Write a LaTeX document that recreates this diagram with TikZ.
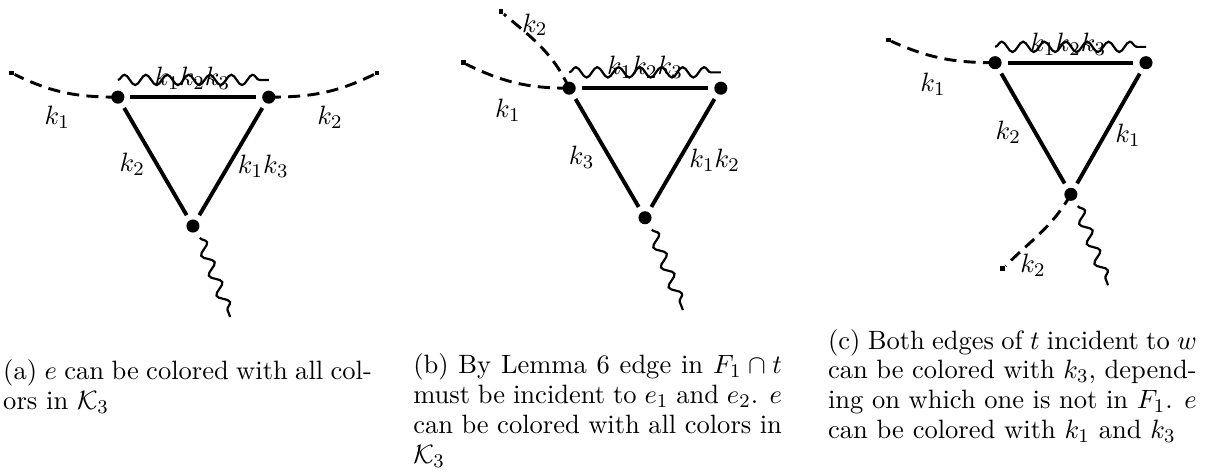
\documentclass[tikz,border=0pt]{standalone}
\usetikzlibrary{decorations.pathmorphing, positioning, calc}

\begin{document}
\begin{tikzpicture}[
    every node/.style={font=\fontsize{10.95}{13.2}\selectfont},
    vtx/.style={
        circle,
        fill=black,
        inner sep=0pt,
        minimum size=0.19cm
    },
    stub/.style={
        rectangle,
        fill=black,
        inner sep=0pt,
        minimum size=2pt
    },
    tedge/.style={
        line width=1.6pt,
        shorten <=0.08cm,
        shorten >=0.08cm
    },
    half/.style={
        very thick,
        dash pattern=on 5pt off 3pt
    },
    wave/.style={
        line width=0.9pt,
        decorate,
        decoration={snake, segment length=0.31cm, amplitude=0.075cm}
    },
    capt/.style={
        anchor=north west,
        inner sep=0pt,
        text width=5.35cm,
        align=justify,
        font=\fontsize{10.95}{12.3}\selectfont
    }
]

\useasboundingbox (0,0) rectangle (17.53,6.85);

% ============================================================
% (a)
% ============================================================

\node[vtx] (La) at (1.71,5.44) {};
\node[vtx] (Ra) at (3.90,5.44) {};
\node[vtx] (Ba) at (2.80,3.57) {};

\node[stub] (ea1) at (0.17,5.79) {};
\node[stub] (ea2) at (5.47,5.79) {};
\coordinate (wa) at (3.34,2.25);

\draw[tedge] (La) -- (Ra);
\draw[tedge] (La) -- (Ba);
\draw[tedge] (Ra) -- (Ba);

\draw[half] (La.center) to[out=180, in=-26] (ea1);
\draw[half] (Ra.center) to[out=0, in=206] (ea2);

\draw[wave] ([yshift=0.25cm]La.center) -- ([yshift=0.25cm]Ra.center);
\draw[wave] ([shift={(0.1,-0.17)}]Ba.center) -- (wa);

\node at (2.79,5.72) {$k_1k_2k_3$};
\node at (0.83,5.15) {$k_1$};
\node at (4.79,5.15) {$k_2$};
\node at (1.92,4.46) {$k_2$};
\node at (3.82,4.43) {$k_1k_3$};

\node[capt] (capa) at (0.04,1.64)
{(a) $e$ can be colored with all col-\linebreak ors in $\mathcal{K}_3$};

% ============================================================
% (b)
% ============================================================

\node[vtx] (Lb) at (8.26,5.57) {};
\node[vtx] (Rb) at (10.46,5.57) {};
\node[vtx] (Bb) at (9.36,3.69) {};

\node[stub] (eb1) at (6.72,5.94) {};
\node[stub] (eb2) at (7.27,6.68) {};
\coordinate (wb) at (9.91,2.35);

\draw[tedge] (Lb) -- (Rb);
\draw[tedge] (Lb) -- (Bb);
\draw[tedge] (Rb) -- (Bb);

\draw[half] (Lb.center) to[out=180, in=-26] (eb1);
\draw[half] (Lb.center) to[out=115, in=-40] (eb2);

\draw[wave] ([yshift=0.23cm]Lb.center) -- ([yshift=0.23cm]Rb.center);
\draw[wave] ([shift={(0.1,-0.17)}]Bb.center) -- (wb);

\node at (9.36,5.88) {$k_1k_2k_3$};
\node at (7.37,5.25) {$k_1$};
\node at (7.76,6.49) {$k_2$};
\node at (8.44,4.57) {$k_3$};
\node at (10.37,4.53) {$k_1k_2$};

\node[capt] (capb) at (5.99,1.72)
{(b) By Lemma 6 edge in $F_1\cap t$\linebreak must be incident to $e_1$ and $e_2$. $e$\linebreak
can be colored with all colors in\linebreak $\mathcal{K}_3$};

% ============================================================
% (c)
% ============================================================

\node[vtx] (Lc) at (14.44,5.94) {};
\node[vtx] (Rc) at (16.63,5.94) {};
\node[vtx] (Bc) at (15.54,4.03) {};

\node[stub] (ec1) at (12.89,6.27) {};
\node[stub] (ec2) at (14.55,2.95) {};
\coordinate (wc) at (16.08,2.71);

\draw[tedge] (Lc) -- (Rc);
\draw[tedge] (Lc) -- (Bc);
\draw[tedge] (Rc) -- (Bc);

\draw[half] (Lc.center) to[out=180, in=-24] (ec1);
\draw[half] (Bc.center) to[out=240, in=45] (ec2);

\draw[wave] ([yshift=0.23cm]Lc.center) -- ([yshift=0.23cm]Rc.center);
\draw[wave] ([shift={(0.1,-0.17)}]Bc.center) -- (wc);

\node at (15.50,6.20) {$k_1k_2k_3$};
\node at (13.54,5.62) {$k_1$};
\node at (14.63,4.93) {$k_2$};
\node at (16.37,4.89) {$k_1$};
\node at (14.99,3.00) {$k_2$};

\node[capt] (capc) at (12.01,2.08)
{(c) Both edges of $t$ incident to $w$\linebreak can be colored with $k_3$, depend-\linebreak ing on which one is not in $F_1$. $e$\linebreak can be colored with $k_1$ and $k_3$};

\end{tikzpicture}
\end{document}
